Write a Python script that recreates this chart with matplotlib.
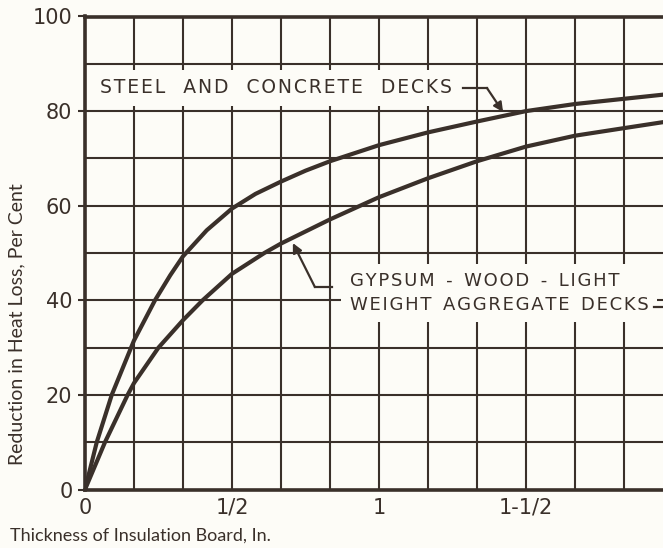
import numpy as np
import matplotlib.pyplot as plt

# thickness of insulation board (in.) and reduction in heat loss (%)
steel_x = [0, 0.04, 0.091, 1/6, 0.238, 0.29, 1/3, 0.414, 1/2, 0.58, 2/3, 0.75, 5/6, 1, 7/6, 4/3, 3/2, 5/3, 11/6, 1.97]
steel_y = [0, 10, 20, 31.5, 40, 45.3, 49.3, 54.8, 59.4, 62.5, 65.1, 67.4, 69.4, 72.8, 75.5, 77.8, 80, 81.5, 82.6, 83.5]

gypsum_x = [0, 0.068, 0.145, 1/6, 0.25, 1/3, 0.40, 1/2, 0.61, 2/3, 5/6, 1, 7/6, 4/3, 3/2, 5/3, 11/6, 1.97]
gypsum_y = [0, 10, 20, 22.5, 30, 35.8, 40, 45.6, 50, 52, 57.1, 61.8, 65.8, 69.4, 72.5, 74.8, 76.4, 77.7]

xtick_pos = [0, 0.5, 1, 1.5]
xtick_labels = ['0', '1/2', '1', '1-1/2']
ytick_pos = [0, 20, 40, 60, 80, 100]

ink = '#3a302a'
paper = '#fdfcf7'


def spaced(text, gap=1):
    # hair spaces between letters, wider gaps between words
    lines = []
    for line in text.split('\n'):
        words = ['\u200a'.join(w) for w in line.split(' ')]
        lines.append((' ' * gap).join(words))
    return '\n'.join(lines)


fig = plt.figure(figsize=(6.63, 5.48), dpi=100, facecolor=paper)
ax = fig.add_axes([85/663, 58.5/548, 1 - 85/663, 473/548])
ax.set_facecolor(paper)

ax.set_xlim(0, 1.966)
ax.set_ylim(0, 100)

# grid: every 1/6 inch and every 10 per cent
ax.set_xticks(np.arange(0, 1.97, 1/6), minor=True)
ax.set_yticks(np.arange(0, 101, 10), minor=True)
ax.set_xticks(xtick_pos)
ax.set_xticklabels(xtick_labels)
ax.set_yticks(ytick_pos)
ax.grid(which='both', color=ink, linewidth=1.5, zorder=1)
ax.set_axisbelow(True)

ax.tick_params(axis='x', which='both', length=0, pad=6, labelsize=15, colors=ink)
ax.tick_params(axis='y', which='major', length=5, width=1.5, pad=4, labelsize=15, colors=ink)
ax.tick_params(axis='y', which='minor', length=0)

for side in ['left', 'bottom', 'top']:
    ax.spines[side].set_color(ink)
    ax.spines[side].set_linewidth(2.6)
ax.spines['right'].set_visible(False)

ax.plot(steel_x, steel_y, color=ink, linewidth=3, solid_joinstyle='round', zorder=3)
ax.plot(gypsum_x, gypsum_y, color=ink, linewidth=3, solid_joinstyle='round', zorder=3)

# labels with their leaders
ax.text(0.05, 84.9, spaced('STEEL AND CONCRETE DECKS', 3), fontsize=13.5, color=ink,
        va='center', ha='left', zorder=2,
        bbox=dict(facecolor=paper, edgecolor='none', pad=6))
ax.plot([1.285, 1.367], [84.9, 84.9], color=ink, linewidth=1.6, zorder=4)
ax.annotate('', xy=(1.422, 79.8), xytext=(1.367, 84.9),
            arrowprops=dict(arrowstyle='-|>', color=ink, lw=1.6,
                            mutation_scale=14, shrinkA=0, shrinkB=0), zorder=4)

ax.text(0.90, 41.5, spaced('GYPSUM - WOOD - LIGHT\nWEIGHT AGGREGATE DECKS', 2), fontsize=13,
        color=ink, va='center', ha='left', linespacing=1.4, zorder=2,
        bbox=dict(facecolor=paper, edgecolor='none', pad=6))
ax.plot([0.84, 0.782], [42.8, 42.8], color=ink, linewidth=1.6, zorder=4)
ax.annotate('', xy=(0.707, 52.1), xytext=(0.782, 42.8),
            arrowprops=dict(arrowstyle='-|>', color=ink, lw=1.6,
                            mutation_scale=14, shrinkA=0, shrinkB=0), zorder=4)
ax.plot([1.935, 1.97], [38.6, 38.6], color=ink, linewidth=1.6, zorder=4, clip_on=False)

fig.text(10/663, 1 - 536/548, 'Thickness of Insulation Board, In.', fontsize=13,
         color=ink, family='Lato', ha='left', va='center')
fig.text(17/663, 1 - 324/548, 'Reduction in Heat Loss, Per Cent', fontsize=14,
         color=ink, family='Lato', rotation=90, ha='center', va='center')

fig.savefig('out.png', dpi=100, facecolor=paper)
